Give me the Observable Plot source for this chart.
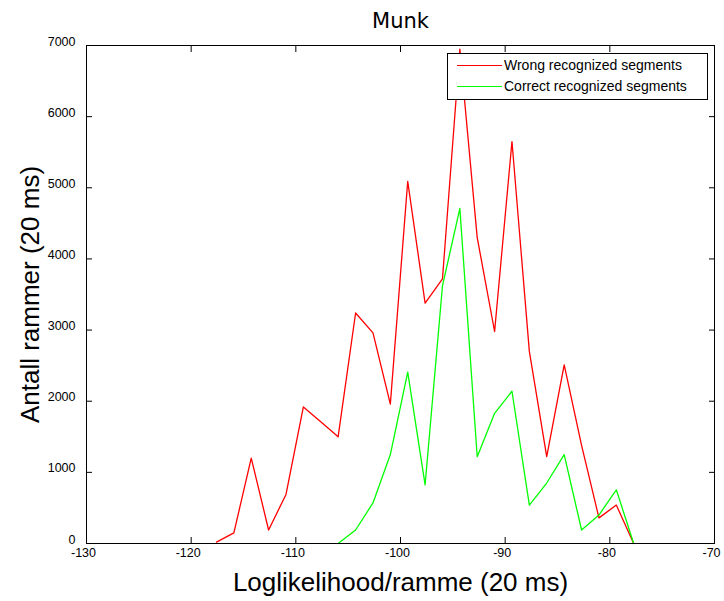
<!DOCTYPE html>
<html>
<head>
<meta charset="utf-8">
<script src="https://cdn.jsdelivr.net/npm/d3@7"></script>
<script src="https://cdn.jsdelivr.net/npm/@observablehq/plot@0.6"></script>
<style>
  html, body { margin: 0; padding: 0; background: #fff; }
  #wrap { position: relative; width: 724px; height: 601px; }
  #legend { position: absolute; left: 447px; top: 53px; width: 261px; height: 47px;
    border: 1px solid #000; background: #fff; box-sizing: border-box;
    font-family: "Liberation Sans", Arial, sans-serif; font-size: 14px; color: #000; }
  .row { position: absolute; left: 0; height: 16px; }
  .sw { position: absolute; left: 9px; width: 45px; top: 7px; border-top: 1.3px solid; }
  .lb { position: absolute; left: 56px; top: -1px; white-space: nowrap; line-height: 16px; }
</style>
</head>
<body>
<div id="wrap">
  <div id="chart"></div>
  <div id="legend"></div>
</div>
<script>
const title = "Munk";
const xLabel = "Loglikelihood/ramme (20 ms)";
const yLabel = "Antall rammer (20 ms)";
const xTicks = [-130, -120, -110, -100, -90, -80, -70];
const yTicks = [0, 1000, 2000, 3000, 4000, 5000, 6000, 7000];

const wrongX = [-117.58, -115.92, -114.26, -112.60, -110.94, -109.28, -107.62, -105.96, -104.29, -102.63,
  -100.97, -99.31, -97.65, -95.99, -94.33, -92.67, -91.01, -89.35, -87.69, -86.03,
  -84.36, -82.70, -81.04, -79.38, -77.72];
const wrongY = [20, 150, 1200, 190, 690, 1920, 1710, 1500, 3240, 2960,
  1960, 5090, 3380, 3720, 6950, 4300, 2980, 5650, 2700, 1220,
  2510, 1380, 360, 540, 0];

const correctX = [-105.96, -104.29, -102.63, -100.97, -99.31, -97.65, -95.99, -94.33, -92.67, -91.01,
  -89.35, -87.69, -86.03, -84.36, -82.70, -81.04, -79.38, -77.72];
const correctY = [0, 190, 570, 1250, 2410, 825, 3620, 4710, 1220, 1830,
  2140, 540, 850, 1250, 190, 400, 755, 0];

const seriesNames = ["Wrong recognized segments", "Correct recognized segments"];
const seriesColors = ["#ff0000", "#00ff00"];

const wrong = wrongX.map((x, i) => ({x, y: wrongY[i]}));
const correct = correctX.map((x, i) => ({x, y: correctY[i]}));

const tickFont = "'Liberation Sans', Arial, sans-serif";
const labelFont = "'Liberation Sans', Arial, sans-serif";

const chart = Plot.plot({
  width: 724,
  height: 601,
  marginLeft: 86,
  marginRight: 10,
  marginTop: 45,
  marginBottom: 58,
  style: {fontFamily: tickFont, fontSize: "12.5px", color: "#000", background: "#fff"},
  x: {domain: [-130, -70], label: null},
  y: {domain: [0, 7000], label: null},
  marks: [
    Plot.line(wrong, {x: "x", y: "y", stroke: seriesColors[0], strokeWidth: 1.3}),
    Plot.line(correct, {x: "x", y: "y", stroke: seriesColors[1], strokeWidth: 1.3}),
    Plot.frame({stroke: "#000", strokeWidth: 1}),
    Plot.axisX(xTicks, {anchor: "bottom", tickSize: 6, dy: -6, text: null, label: null, stroke: "#000"}),
    Plot.axisX(xTicks, {anchor: "top", tickSize: 6, dy: 6, text: null, label: null, stroke: "#000"}),
    Plot.axisY(yTicks, {anchor: "left", tickSize: 6, dx: 6, text: null, label: null, stroke: "#000"}),
    Plot.axisY(yTicks, {anchor: "right", tickSize: 6, dx: -6, text: null, label: null, stroke: "#000"}),
    Plot.axisX(xTicks, {anchor: "bottom", tickSize: 0, tickPadding: 5, dx: -3, label: null,
      tickFormat: d => String(d), fontFamily: tickFont, fontSize: 12.5, fill: "#000"}),
    Plot.axisY(yTicks, {anchor: "left", tickSize: 0, tickPadding: 11, dy: -4, label: null,
      tickFormat: d => String(d), fontFamily: tickFont, fontSize: 12.5, fill: "#000"}),
    Plot.text([title], {text: d => d, frameAnchor: "top", lineAnchor: "middle", dy: -24,
      fontSize: 21, fontFamily: "'DejaVu Sans', sans-serif", fill: "#000"}),
    Plot.text([xLabel], {text: d => d, frameAnchor: "bottom", textAnchor: "middle", lineAnchor: "middle", dy: 39,
      fontSize: 26, fontFamily: labelFont, fill: "#000"}),
    Plot.text([yLabel], {text: d => d, frameAnchor: "left", textAnchor: "middle", lineAnchor: "middle", rotate: -90, dx: -56,
      fontSize: 26, fontFamily: labelFont, fill: "#000"})
  ]
});
document.getElementById("chart").appendChild(chart);

const legend = document.getElementById("legend");
seriesNames.forEach((name, i) => {
  const row = document.createElement("div");
  row.className = "row";
  row.style.top = (i === 0 ? 4 : 25) + "px";
  row.style.width = "100%";
  const sw = document.createElement("div");
  sw.className = "sw";
  sw.style.borderTopColor = seriesColors[i];
  const lb = document.createElement("div");
  lb.className = "lb";
  lb.textContent = name;
  row.appendChild(sw);
  row.appendChild(lb);
  legend.appendChild(row);
});
</script>
</body>
</html>
